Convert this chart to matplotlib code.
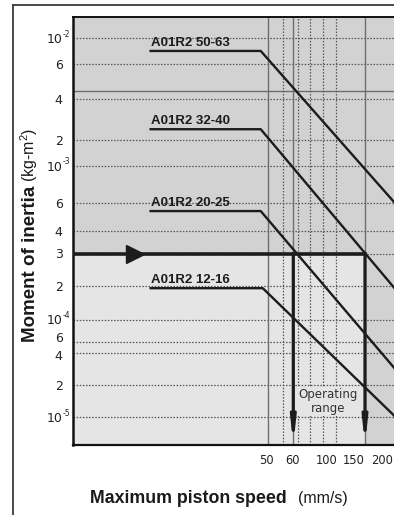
import numpy as np
import matplotlib.pyplot as plt
from matplotlib.lines import Line2D
from matplotlib.ticker import NullLocator
from matplotlib.transforms import Affine2D

plt.rcParams['font.family'] = 'Liberation Sans'

# cylinder curves: flat inertia limit, then falling with speed (mm/s, kg-m^2)
models = ["A01R2 50-63", "A01R2 32-40", "A01R2 20-25", "A01R2 12-16"]
start_speed = [19, 19, 19, 19]
knee_speed = [47.2, 47.2, 47.2, 48.0]
flat_inertia = [7.8e-3, 2.4e-3, 5.3e-4, 1.9e-4]
end_speed = [205, 205, 205, 205]
end_inertia = [5.8e-4, 1.81e-4, 2.73e-5, 9.8e-6]

# example reading: 3e-4 kg-m2 -> operating range 60..150 mm/s
op_inertia = 3e-4
op_speeds = [60, 150]
arrow_speed = 16.7

y_ticks = [1e-5, 2e-5, 4e-5, 6e-5, 1e-4, 2e-4, 3e-4, 4e-4, 6e-4, 1e-3, 2e-3, 4e-3, 6e-3, 1e-2]
y_labels = ['10', '2', '4', '6', '10', '2', '3', '4', '6', '10', '2', '4', '6', '10']
y_powers = ['-5', '', '', '', '-4', '', '', '', '', '-3', '', '', '', '-2']
x_ticks = [50, 60, 100, 150, 200]
x_labels = ['50', '60', '100', '150', '200']
x_solid = [50, 60, 150]
x_dotted = [55, 70, 80, 90, 100]
y_solid = [4.4e-3]

# the printed chart is hand drawn, its axes are not strictly logarithmic:
# calibrate each axis against the gridlines of the original (value -> pixel)
x_cal_vals = [10, 50, 55, 60, 70, 80, 90, 100, 150, 200, 210]
x_cal_pos = [0, 194.7, 209.7, 220.3, 225.3, 237, 249.7, 263, 292, 322, 325]
y_cal_vals = [5.4e-6, 1e-5, 2e-5, 4e-5, 6e-5, 1e-4, 2e-4, 3e-4, 4e-4, 6e-4, 1e-3, 2e-3, 4e-3, 6e-3, 1e-2, 1.52e-2]
y_cal_pos = [0, 28, 60, 92, 103.3, 125.5, 159.3, 191.5, 214.5, 242.5, 279, 305, 346, 380.7, 406.7, 428]


def calibrated(vals, pos):
    lv = np.log10(vals)

    def fwd(v):
        v = np.asarray(v, dtype=float)
        return np.interp(np.log10(np.clip(v, 1e-12, None)), lv, pos)

    def inv(p):
        return 10 ** np.interp(p, pos, lv)
    return fwd, inv


dark = '#1c1c1c'
top_gray = '#d2d2d2'
low_gray = '#e5e5e5'

fig = plt.figure(figsize=(3.94, 5.15), dpi=100)
ax = fig.add_axes([73 / 394, 70 / 515, 325 / 394, 428 / 515])
ax.set_xscale('function', functions=calibrated(x_cal_vals, x_cal_pos))
ax.set_yscale('function', functions=calibrated(y_cal_vals, y_cal_pos))
xmin, xmax = 10, 210
ymin, ymax = 5.4e-6, 1.52e-2
ax.set_xlim(xmin, xmax)
ax.set_ylim(ymin, ymax)
ax.set_facecolor('none')

# shaded zones
ax.axhspan(op_inertia, ymax, color=top_gray, lw=0, zorder=0)
ax.axhspan(ymin, op_inertia, color=low_gray, lw=0, zorder=0)
ax.fill_between([op_speeds[1], xmax], ymin, op_inertia, color=top_gray, lw=0, zorder=0)

# grid
for y in y_ticks:
    ax.axhline(y, color='#555555', lw=0.9, ls=(0, (1.2, 1.3)), zorder=1)
for y in y_solid:
    ax.axhline(y, color='#6e6e6e', lw=1.0, zorder=1)
for x in x_dotted:
    ax.axvline(x, color='#555555', lw=0.9, ls=(0, (1.2, 1.3)), zorder=1)
for x in x_solid:
    ax.axvline(x, color='#6e6e6e', lw=1.0, zorder=1)

# curves with their labels
for name, s0, sk, yf, s1, y1 in zip(models, start_speed, knee_speed, flat_inertia, end_speed, end_inertia):
    ax.plot([s0, sk, s1], [yf, yf, y1], color=dark, lw=1.7, zorder=3, clip_on=False)
    ax.annotate(name, (s0, yf), xytext=(0, 5), textcoords='offset pixels',
                ha='left', va='baseline', fontsize=9.5, fontweight='bold', color=dark, zorder=4)

# reading example
ax.plot([xmin, op_speeds[1]], [op_inertia, op_inertia], color=dark, lw=2.6,
        solid_capstyle='projecting', zorder=4)
ax.plot([arrow_speed], [op_inertia], marker='>', ms=13, color=dark, zorder=5)
for s in op_speeds:
    ax.annotate('', xy=(s, ymin), xytext=(s, op_inertia),
                arrowprops=dict(arrowstyle='-|>,head_length=1.3,head_width=0.14',
                                color=dark, lw=2.3, shrinkA=0, shrinkB=0), zorder=4)
ax.text(93.6, 1.4e-5, 'Operating\nrange', ha='center', va='center', fontsize=8.5,
        family='DejaVu Sans', color='#333333', linespacing=1.05, zorder=3,
        bbox=dict(fc=low_gray, ec='none', pad=1))

# axes frame
for side in ['left', 'top', 'bottom']:
    ax.spines[side].set_color('#111111')
ax.spines['left'].set_linewidth(1.8)
ax.spines['top'].set_linewidth(1.4)
ax.spines['bottom'].set_linewidth(1.6)
ax.spines['right'].set_visible(False)

ax.set_xticks(x_ticks, x_labels)
ax.set_yticks(y_ticks, y_labels)
ax.xaxis.set_minor_locator(NullLocator())
ax.yaxis.set_minor_locator(NullLocator())
ax.tick_params(length=0, labelfontfamily='DejaVu Sans', labelcolor='#222222')
ax.tick_params(axis='x', labelsize=8.3, pad=6.5)
ax.tick_params(axis='y', labelsize=9, pad=7.5)

# powers of ten as small raised text next to the "10" labels
for y, p in zip(y_ticks, y_powers):
    if p:
        ax.annotate(p, (0, y), xycoords=ax.get_yaxis_transform(), xytext=(-10, -0.5),
                    textcoords='offset pixels', ha='left', va='bottom', fontsize=5.5,
                    family='DejaVu Sans', color='#222222', annotation_clip=False)

# nudge labels like the printed sheet (crowded 6 / 4 near 1e-4 are spread apart)
x_shift = [-1.5, -1, -9, -11, -13]
for tick, dx in zip(ax.xaxis.get_major_ticks(), x_shift):
    tick.label1.set_transform(tick.label1.get_transform() + Affine2D().translate(dx, 0))
y_shift = [0, 0, -2, 4.5, 0, 0, 0, 0, 0, 0, 0, 0, 0, 0]
for tick, dy in zip(ax.yaxis.get_major_ticks(), y_shift):
    tick.label1.set_transform(tick.label1.get_transform() + Affine2D().translate(0, dy))

# axis titles
fig.text(35 / 394, 1 - 342 / 515, 'Moment of inertia', rotation=90, rotation_mode='anchor',
         ha='left', va='baseline', fontsize=13.5, fontweight='bold', color='#1a1a1a')
fig.text(35 / 394, 1 - 182 / 515, r'(kg-m$\mathregular{^2}$)', rotation=90, rotation_mode='anchor',
         ha='left', va='baseline', fontsize=11.5, color='#1a1a1a')
fig.text(90 / 394, 1 - 503 / 515, 'Maximum piston speed', ha='left', va='baseline',
         fontsize=12.8, fontweight='bold', color='#1a1a1a')
fig.text(298 / 394, 1 - 503 / 515, '(mm/s)', ha='left', va='baseline', fontsize=11.5, color='#1a1a1a')

# outer sheet border
fig.add_artist(Line2D([13 / 394, 13 / 394], [0, 1 - 5 / 515], transform=fig.transFigure,
                      color='#3a3a3a', lw=1.3))
fig.add_artist(Line2D([13 / 394, 1], [1 - 5 / 515, 1 - 5 / 515], transform=fig.transFigure,
                      color='#3a3a3a', lw=1.3))

fig.savefig('out.png', dpi=100)
